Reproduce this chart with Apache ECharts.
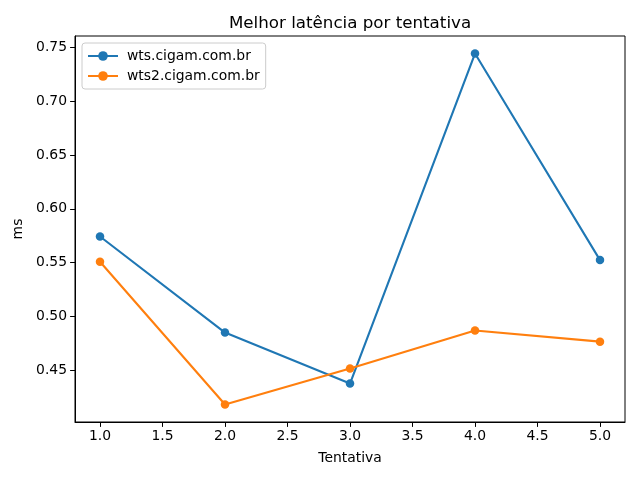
<!DOCTYPE html>
<html>
<head>
<meta charset="utf-8">
<script src="https://cdn.jsdelivr.net/npm/echarts@6/dist/echarts.min.js"></script>
<style>html,body{margin:0;padding:0;background:#fff}#c{width:640px;height:480px}</style>
</head>
<body>
<div id="c"></div>
<script>
const attempts = [1, 2, 3, 4, 5];
const wtsValues = [0.5743, 0.4850, 0.4376, 0.7444, 0.5524];
const wts2Values = [0.5509, 0.4182, 0.4516, 0.4869, 0.4766];
const xTicks = [1.0, 1.5, 2.0, 2.5, 3.0, 3.5, 4.0, 4.5, 5.0];
const yTicks = [0.45, 0.50, 0.55, 0.60, 0.65, 0.70, 0.75];
const seriesNames = ['wts.cigam.com.br', 'wts2.cigam.com.br'];

const allVals = wtsValues.concat(wts2Values);
const yLo = Math.min(...allVals), yHi = Math.max(...allVals);
const yPad = (yHi - yLo) * 0.05;
const xPad = (attempts[attempts.length - 1] - attempts[0]) * 0.05;

const FONT = 'DejaVu Sans';
const chart = echarts.init(document.getElementById('c'), null, {renderer: 'canvas'});
const pairs = v => attempts.map((x, i) => [x, v[i]]);
const lineSeries = (name, vals, color) => ({
  name, type: 'line', data: pairs(vals),
  symbol: 'circle', symbolSize: 8.5,
  lineStyle: {color, width: 2.1},
  itemStyle: {color},
  emphasis: {disabled: true},
  animation: false
});

chart.setOption({
  animation: false,
  textStyle: {fontFamily: FONT},
  title: {
    text: 'Melhor latência por tentativa',
    left: 345, top: 10, textAlign: 'center',
    textStyle: {fontFamily: FONT, fontSize: 16.7, fontWeight: 'normal', color: '#000'}
  },
  legend: {
    orient: 'vertical', left: 82, top: 43,
    padding: [6, 6, 6, 5], itemGap: 6,
    itemWidth: 30, itemHeight: 12,
    backgroundColor: 'rgba(255,255,255,0.8)',
    borderColor: '#cccccc', borderWidth: 1, borderRadius: 3,
    textStyle: {fontFamily: FONT, fontSize: 13.9, color: '#000', padding: [0, 0, 0, 4]},
    data: seriesNames
  },
  grid: {
    left: 75, right: 15, top: 36, bottom: 58,
    show: true, borderColor: '#000', borderWidth: 1, backgroundColor: 'transparent'
  },
  xAxis: {
    type: 'value', min: attempts[0] - xPad, max: attempts[attempts.length - 1] + xPad,
    name: 'Tentativa', nameLocation: 'middle', nameGap: 29,
    nameTextStyle: {fontFamily: FONT, fontSize: 13.9, color: '#000'},
    axisLine: {show: true, onZero: false, lineStyle: {color: '#000', width: 1}},
    axisTick: {show: true, length: 4.9, customValues: xTicks, lineStyle: {color: '#000'}},
    axisLabel: {customValues: xTicks, margin: 7, fontFamily: FONT, fontSize: 13.9, color: '#000',
      formatter: v => v.toFixed(1)},
    splitLine: {show: false}
  },
  yAxis: {
    type: 'value', min: yLo - yPad, max: yHi + yPad,
    name: 'ms', nameLocation: 'middle', nameGap: 42, nameRotate: 90,
    nameTextStyle: {fontFamily: FONT, fontSize: 13.9, color: '#000'},
    axisLine: {show: true, onZero: false, lineStyle: {color: '#000', width: 1}},
    axisTick: {show: true, length: 4.9, customValues: yTicks, lineStyle: {color: '#000'}},
    axisLabel: {customValues: yTicks, margin: 8, fontFamily: FONT, fontSize: 13.9, color: '#000',
      formatter: v => v.toFixed(2)},
    splitLine: {show: false}
  },
  series: [
    lineSeries(seriesNames[0], wtsValues, '#1f77b4'),
    lineSeries(seriesNames[1], wts2Values, '#ff7f0e')
  ]
});
</script>
</body>
</html>
